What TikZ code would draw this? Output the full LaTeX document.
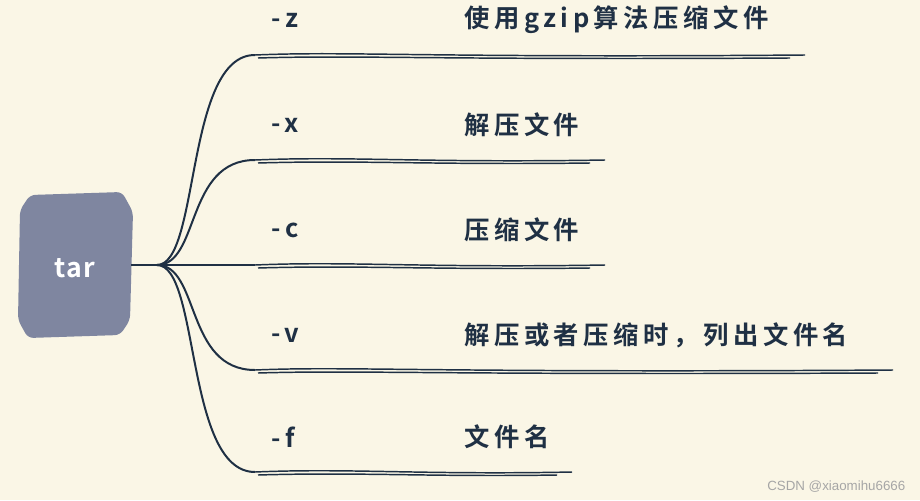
\documentclass[tikz,border=0pt]{standalone}
\usepackage{fontspec}
\newfontfamily\cjk{Noto Sans CJK SC}[BoldFont={Noto Sans CJK SC Bold},LetterSpace=18]
\newfontfamily\cjkplain{Noto Sans CJK SC}[BoldFont={Noto Sans CJK SC Bold},LetterSpace=4]
\definecolor{bg}{HTML}{FAF6E6}
\definecolor{ink}{HTML}{1F3044}
\definecolor{rootc}{HTML}{7F86A0}
\begin{document}
\begin{tikzpicture}[x=0.75pt,y=-0.75pt,
  lbl/.style={anchor=west,inner sep=0pt,font=\cjk\bfseries\fontsize{19}{22}\selectfont,text=ink},
  branch/.style={draw=ink,line width=1.5pt},
  under/.style={draw=ink,line width=1.1pt}]
\fill[bg] (0,0) rectangle (920,500);
\useasboundingbox (0,0) rectangle (920,500);
\fill[rootc,rounded corners=4pt] (30,195) -- (122,192) -- (133,212) -- (130,320) -- (120,335) -- (28,338) -- (18,320) -- (20,210) -- cycle;
\node[font=\cjkplain\bfseries\fontsize{20}{22}\selectfont,text=white] (root) at (75,268) {tar};
\coordinate (hub) at (157,265);
\draw[branch] (131,265) -- (hub);
\foreach \n/\y/\e/\o/\t in {z/55/805/-z/使用gzip算法压缩文件, x/160/605/-x/解压文件, c/265/605/-c/压缩文件, v/370/893/-v/解压或者压缩时，列出文件名, f/472/572/-f/文件名}{
  \coordinate (s\n) at (255,\y);
  \coordinate (e\n) at (\e,\y);
  \draw[branch] (hub) .. controls (200,265) and (185,\y) .. (s\n);
  \draw[under] (s\n) .. controls (350,\y-4) and (420,\y+3) .. (e\n);
  \draw[under] (258,\y+3) .. controls (360,\y) and (430,\y+5) .. (\e-15,\y+3);
  \node[lbl] (o\n) at (271,\y-35) {\o};
  \node[lbl] (t\n) at (464,\y-35) {\t};
}
\node[anchor=east,font=\fontspec{Liberation Sans}\fontsize{10}{12}\selectfont,text=black!35] (wm) at (910,487) {CSDN @xiaomihu6666};
\end{tikzpicture}
\end{document}
